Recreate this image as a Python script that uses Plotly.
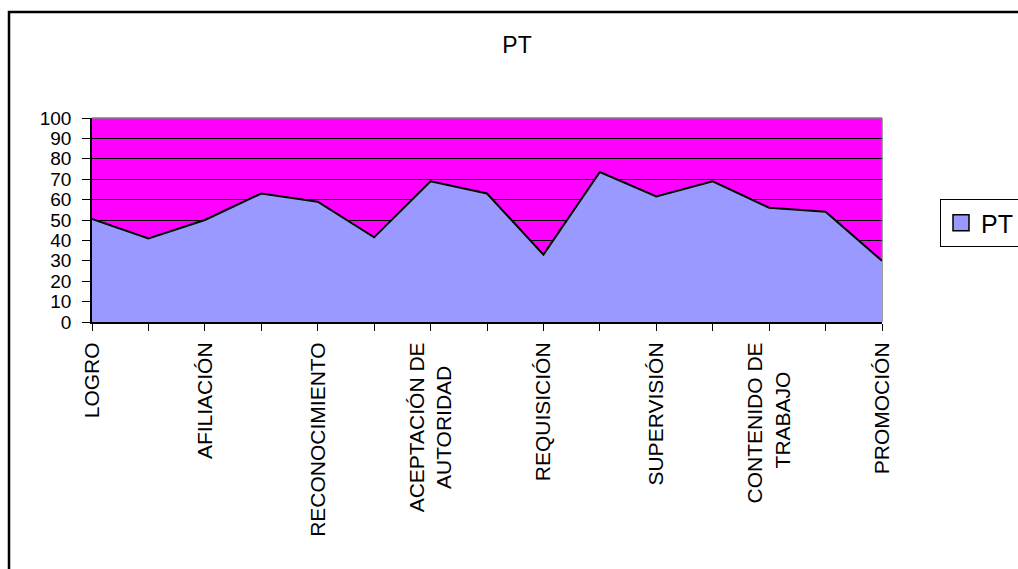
import plotly.graph_objects as go

categories = [
    "LOGRO", "PODER", "AFILIACIÓN", "AUTORREALIZACIÓN", "RECONOCIMIENTO",
    "DEDICACIÓN A LA TAREA", "ACEPTACIÓN DE AUTORIDAD", "ACEPTACIÓN DE NORMAS Y VALORES",
    "REQUISICIÓN", "EXPECTACIÓN", "SUPERVISIÓN", "GRUPO DE TRABAJO",
    "CONTENIDO DE TRABAJO", "SALARIO", "PROMOCIÓN",
]
pt_values = [50.5, 41, 50, 63, 59, 41.5, 69, 63, 33, 73.5, 61.5, 69, 56, 54, 30]
series_name = "PT"
title_text = "PT"
y_ticks = list(range(0, 101, 10))

NB = "\u00a0"
# wrapped, centred display text for the long labels (every other label shown)
wrapped = {
    "ACEPTACIÓN DE AUTORIDAD": "ACEPTACIÓN DE<br>AUTORIDAD" + NB * 4,
    "CONTENIDO DE TRABAJO": "CONTENIDO DE<br>TRABAJO" + NB * 5,
}
shown_labels = [wrapped.get(c, c) if i % 2 == 0 else "" for i, c in enumerate(categories)]

FONT = "Liberation Sans, Arial, sans-serif"
W, H = 1018, 569
L, R, T, B = 92, 882, 118, 322

fig = go.Figure()
fig.add_trace(go.Scatter(
    x=categories, y=pt_values, mode="lines", fill="tozeroy",
    fillcolor="#9999FF", line=dict(color="black", width=2),
    name=series_name, showlegend=False, hoverinfo="x+y",
))
# legend swatch (square) for the series
fig.add_trace(go.Scatter(
    x=[categories[0]], y=[None], name=series_name, mode="markers",
    marker=dict(symbol="square", size=16, color="#9999FF",
                line=dict(color="black", width=1.5)),
    showlegend=True, hoverinfo="skip",
))

pw = R - L
ph = B - T
def px_x(x):
    return (x - L) / pw
def px_y(y):
    return (B - y) / ph

fig.update_layout(
    width=W, height=H,
    margin=dict(l=L, r=W - R, t=T, b=H - B, pad=0, autoexpand=False),
    paper_bgcolor="white",
    plot_bgcolor="#FF00FF",
    font=dict(family=FONT, color="black"),
    title=dict(text=title_text, x=517 / W, xanchor="center", xref="container",
               y=1 - 45 / H, yanchor="middle", yref="container",
               font=dict(size=23, family=FONT, color="black")),
    showlegend=True,
    legend=dict(x=px_x(940), y=px_y(199), xanchor="left", yanchor="top",
                bordercolor="black", borderwidth=1, bgcolor="white",
                font=dict(size=25, family=FONT, color="black"),
                itemsizing="trace"),
)
fig.update_xaxes(
    type="category", categoryorder="array", categoryarray=categories,
    range=[0, len(categories) - 1],
    tickmode="array", tickvals=categories, ticktext=shown_labels,
    tickangle=-90, ticks="outside", ticklen=7, tickcolor="black", tickwidth=1,
    showline=True, linecolor="black", linewidth=2,
    showgrid=False, zeroline=False,
    tickfont=dict(size=21, family=FONT, color="black"),
    ticklabelstandoff=3,
)
fig.update_yaxes(
    range=[0, 100], tickmode="array", tickvals=y_ticks,
    ticks="outside", ticklen=8, tickcolor="black", tickwidth=1,
    showline=True, linecolor="black", linewidth=1.5,
    showgrid=True, gridcolor="black", gridwidth=1, zeroline=False,
    tickfont=dict(size=19, family=FONT, color="black"),
    ticklabelstandoff=7,
)
# gray plot-area border on top and right
fig.add_shape(type="line", xref="paper", yref="paper", x0=0, x1=1, y0=1, y1=1,
              line=dict(color="#808080", width=1.5), layer="above")
fig.add_shape(type="line", xref="paper", yref="paper", x0=1, x1=1, y0=0, y1=1,
              line=dict(color="#808080", width=1.5), layer="below")
# outer chart border (left and top visible, rest cut off)
fig.add_shape(type="rect", xref="paper", yref="paper",
              x0=px_x(9), x1=px_x(1040), y0=px_y(12), y1=px_y(600),
              line=dict(color="black", width=2.5), fillcolor="rgba(0,0,0,0)", layer="above")

fig.write_html("out.html")
